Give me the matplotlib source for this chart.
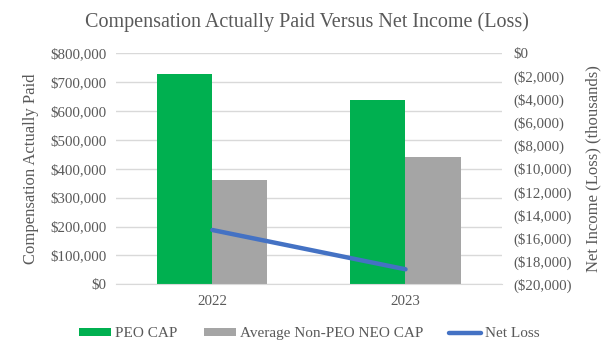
import numpy as np
import matplotlib.pyplot as plt
from matplotlib.ticker import FuncFormatter

# data
years = ["2022", "2023"]
peo_cap = [728000, 638000]
non_peo_cap = [361000, 441000]
net_loss = [-15300, -18700]   # thousands

plt.rcParams['font.family'] = ['Liberation Serif', 'DejaVu Serif']
txt = "#595959"
grid_c = "#d9d9d9"

fig = plt.figure(figsize=(6.13, 3.56), dpi=100)
ax = fig.add_axes([0.189, 0.2014, 0.630, 0.6489])
ax2 = ax.twinx()

x = np.arange(len(years))
w = 0.285
ax.bar(x - w/2, peo_cap, w, color="#00b050", label="PEO CAP", zorder=2)
ax.bar(x + w/2, non_peo_cap, w, color="#a5a5a5", label="Average Non-PEO NEO CAP", zorder=2)
ax2.plot(x, net_loss, color="#4472c4", lw=3.2, solid_capstyle="round", label="Net Loss")

ax.set_xlim(-0.5, 1.5)
ax.set_ylim(0, 800000)
ax.set_yticks(np.arange(0, 800001, 100000))
ax.yaxis.set_major_formatter(FuncFormatter(lambda v, p: "${:,.0f}".format(v)))
ax2.set_ylim(-20000, 0)
ax2.set_yticks(np.arange(-20000, 1, 2000))
ax2.yaxis.set_major_formatter(FuncFormatter(
    lambda v, p: "$0" if v == 0 else "(${:,.0f})".format(abs(v))))

ax.set_xticks(x)
ax.set_xticklabels(years)
ax.grid(axis="y", color=grid_c, lw=1, zorder=0)
ax.set_axisbelow(True)

for a in (ax, ax2):
    for s in a.spines.values():
        s.set_visible(False)
    a.tick_params(length=0, colors=txt, labelsize=10.7)
ax.spines["bottom"].set_visible(True)
ax.spines["bottom"].set_color(grid_c)
ax.tick_params(axis="x", pad=8)
ax.tick_params(axis="y", pad=7)
ax2.tick_params(axis="y", pad=8)

ax.set_ylabel("Compensation Actually Paid", color=txt, fontsize=12, labelpad=8)
ax2.set_ylabel("Net Income (Loss) (thousands)", color=txt, fontsize=12, labelpad=10)
fig.suptitle("Compensation Actually Paid Versus Net Income (Loss)", color=txt,
             fontsize=14.5, y=0.965)

h1, l1 = ax.get_legend_handles_labels()
h2, l2 = ax2.get_legend_handles_labels()
fig.legend(h1 + h2, l1 + l2, loc="center", bbox_to_anchor=(0.505, 0.062), ncol=3,
           frameon=False, fontsize=11, labelcolor=txt, handlelength=2.1,
           handleheight=0.46, columnspacing=1.7, handletextpad=0.26)

fig.savefig("out.png", dpi=100)
